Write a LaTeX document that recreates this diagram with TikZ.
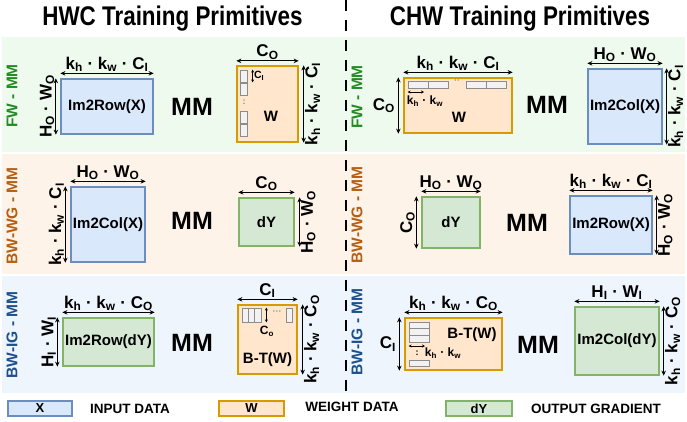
\documentclass[tikz,border=0pt]{standalone}
\usepackage{fontspec}
\setmainfont{Liberation Sans}
\newfontfamily\narrowfont[FakeStretch=0.83]{Liberation Sans}
\usetikzlibrary{arrows.meta}
\newcommand\sbs[1]{\textsubscript{#1}}
\definecolor{bandG}{HTML}{EFFAEF}
\definecolor{bandO}{HTML}{FDF3E9}
\definecolor{bandB}{HTML}{EEF5FC}
\definecolor{blueF}{HTML}{DAE8FC}
\definecolor{blueD}{HTML}{6C8EBF}
\definecolor{orF}{HTML}{FFE6CC}
\definecolor{orD}{HTML}{D79B00}
\definecolor{grF}{HTML}{D5E8D4}
\definecolor{grD}{HTML}{82B366}
\definecolor{cellD}{HTML}{8C8C8C}
\definecolor{cellF}{HTML}{F2F2F2}
\definecolor{labG}{RGB}{34,139,34}
\definecolor{labO}{RGB}{180,95,20}
\definecolor{labB}{RGB}{30,80,140}
\begin{document}
\begin{tikzpicture}[x=1pt,y=-1pt,
  box/.style={line width=1.3pt, inner sep=0pt, font=\fontsize{15}{17}\selectfont\bfseries},
  bluebox/.style={box, draw=blueD, fill=blueF},
  orbox/.style={box, draw=orD, fill=orF},
  grbox/.style={box, draw=grD, fill=grF},
  band/.style={draw=none},
  dim/.style={{Stealth[length=5pt,width=4.5pt]}-{Stealth[length=5pt,width=4.5pt]}, line width=1pt},
  sdim/.style={{Stealth[length=3pt,width=3pt]}-{Stealth[length=3pt,width=3pt]}, line width=0.7pt},
  lbl/.style={font=\fontsize{17}{19}\selectfont\bfseries, inner sep=1pt},
  slbl/.style={font=\fontsize{10.5}{12}\selectfont\bfseries, inner sep=1pt},
  cell/.style={draw=cellD, fill=cellF, line width=0.8pt, inner sep=0pt},
  mm/.style={font=\fontsize{25}{28}\selectfont\bfseries},
  rowlab/.style={rotate=90, font=\fontsize{15.5}{17}\selectfont\bfseries},
  title/.style={font=\fontsize{27}{30}\selectfont\narrowfont\bfseries, anchor=base},
  legtxt/.style={font=\fontsize{13.5}{15}\selectfont\bfseries},
  legbox/.style={box, font=\fontsize{13}{15}\selectfont\bfseries, minimum height=15pt},
  dots/.style={text=cellD, font=\fontsize{9}{10}\selectfont\bfseries, inner sep=0pt}
]
\useasboundingbox (0,0) rectangle (687,421);
\fill[white] (0,0) rectangle (687,421);
% bands
\fill[bandG] (2,37) rectangle (685,152);
\fill[bandO] (2,154) rectangle (685,274);
\fill[bandB] (2,276) rectangle (685,393);
% titles
\node[title] (t1) at (172.5,25) {HWC Training Primitives};
\node[title] (t2) at (520,25) {CHW Training Primitives};
% divider
\coordinate (dtop) at (346,0);
\coordinate (dbot) at (346,396);
\draw[line width=1.2pt, dash pattern=on 11pt off 9pt] (dtop) -- (dbot);
% row labels
\node[rowlab, text=labG] (r1l) at (12,96) {FW - MM};
\node[rowlab, text=labG] (r1r) at (357,97) {FW - MM};
\node[rowlab, text=labO] (r2l) at (12,216) {BW-WG - MM};
\node[rowlab, text=labO] (r2r) at (357,215) {BW-WG - MM};
\node[rowlab, text=labB] (r3l) at (12,335) {BW-IG - MM};
\node[rowlab, text=labB] (r3r) at (357,332) {BW-IG - MM};

%%%%% Row 1 left
\node[bluebox, minimum width=92pt, minimum height=55pt] (a1) at (107,106.5) {Im2Row(X)};
\draw[dim] ([yshift=5pt]a1.north west) -- ([yshift=5pt]a1.north east) node[midway, anchor=south, lbl] {k\sbs{h} · k\sbs{w} · C\sbs{I}};
\draw[dim] ([xshift=-4.5pt]a1.north west) -- ([xshift=-4.5pt]a1.south west) node[midway, rotate=90, anchor=south, lbl] {H\sbs{O} · W\sbs{O}};
\node[mm] (m1l) at (192,107) {MM};
\node[orbox, minimum width=61pt, minimum height=76pt] (b1) at (267.5,104) {};
\node[box, anchor=center] (b1t) at (271,116) {W};
\draw[dim] ([yshift=4.5pt]b1.north west) -- ([yshift=4.5pt]b1.north east) node[midway, anchor=south, lbl] {C\sbs{O}};
\draw[dim] ([xshift=5pt]b1.north east) -- ([xshift=5pt]b1.south east) node[midway, rotate=90, anchor=north, lbl] {k\sbs{h} · k\sbs{w} · C\sbs{I}};
\node[cell, minimum width=6.5pt, minimum height=12pt] (b1c1) at (244,76) {};
\node[cell, minimum width=6.5pt, minimum height=12pt] (b1c2) at (244,89) {};
\node[dots] (b1d) at (244,102) {:};
\node[cell, minimum width=6.5pt, minimum height=12pt] (b1c3) at (244,117) {};
\node[cell, minimum width=6.5pt, minimum height=12pt] (b1c4) at (244,130) {};
\draw[sdim] ([xshift=5pt]b1c1.north east) -- ([xshift=5pt]b1c1.south east) node[midway, anchor=west, slbl] {C\sbs{I}};

%%%%% Row 1 right
\node[orbox, minimum width=108pt, minimum height=55pt] (c1) at (458,105.5) {};
\node[box] (c1t) at (459,117) {W};
\draw[dim] ([yshift=5pt]c1.north west) -- ([yshift=5pt]c1.north east) node[midway, anchor=south, lbl] {k\sbs{h} · k\sbs{w} · C\sbs{I}};
\draw[dim] ([xshift=-5pt]c1.north west) -- ([xshift=-5pt]c1.south west) node[midway, anchor=east, lbl, xshift=-2pt] {C\sbs{O}};
\node[cell, minimum width=20pt, minimum height=7pt] (c1c1) at (418,84.5) {};
\node[cell, minimum width=20pt, minimum height=7pt] (c1c2) at (438,84.5) {};
\node[dots] (c1d) at (457,82) {··};
\node[cell, minimum width=20pt, minimum height=7pt] (c1c3) at (476.5,84.5) {};
\node[cell, minimum width=20pt, minimum height=7pt] (c1c4) at (496.5,84.5) {};
\coordinate (c1a) at (424,92);
\draw[sdim] (c1c1.south west |- c1a) -- (c1a);
\node[slbl, font=\fontsize{12}{13}\selectfont\bfseries] (c1l) at (425,101) {k\sbs{h} · k\sbs{w}};
\node[mm] (m1r) at (547,105) {MM};
\node[bluebox, minimum width=74pt, minimum height=75pt] (d1) at (625,106.5) {Im2Col(X)};
\draw[dim] ([yshift=5pt]d1.north west) -- ([yshift=5pt]d1.north east) node[midway, anchor=south, lbl] {H\sbs{O} · W\sbs{O}};
\draw[dim] ([xshift=4pt]d1.north east) -- ([xshift=4pt]d1.south east) node[midway, rotate=90, anchor=north, lbl] {k\sbs{h} · k\sbs{w} · C\sbs{I}};

%%%%% Row 2 left
\node[bluebox, minimum width=74pt, minimum height=75pt] (a2) at (108,224.5) {Im2Col(X)};
\draw[dim] ([yshift=5pt]a2.north west) -- ([yshift=5pt]a2.north east) node[midway, anchor=south, lbl] {H\sbs{O} · W\sbs{O}};
\draw[dim] ([xshift=-5pt]a2.north west) -- ([xshift=-5pt]a2.south west) node[midway, rotate=90, anchor=south, lbl] {k\sbs{h} · k\sbs{w} · C\sbs{I}};
\node[mm] (m2l) at (192,221) {MM};
\node[grbox, minimum width=55pt, minimum height=48pt] (b2) at (266.5,222) {dY};
\draw[dim] ([yshift=5pt]b2.north west) -- ([yshift=5pt]b2.north east) node[midway, anchor=south, lbl] {C\sbs{O}};
\draw[dim] ([xshift=5pt]b2.north east) -- ([xshift=5pt]b2.south east) node[midway, rotate=90, anchor=north, lbl] {H\sbs{O} · W\sbs{O}};

%%%%% Row 2 right
\node[grbox, minimum width=58pt, minimum height=51pt] (c2) at (451,222.5) {dY};
\draw[dim] ([yshift=5pt]c2.north west) -- ([yshift=5pt]c2.north east) node[midway, anchor=south, lbl] {H\sbs{O} · W\sbs{O}};
\draw[dim] ([xshift=-5pt]c2.north west) -- ([xshift=-5pt]c2.south west) node[midway, rotate=90, anchor=south, lbl] {C\sbs{O}};
\node[mm] (m2r) at (527,223) {MM};
\node[bluebox, minimum width=82pt, minimum height=58pt] (d2) at (611,225) {Im2Row(X)};
\draw[dim] ([yshift=5pt]d2.north west) -- ([yshift=5pt]d2.north east) node[midway, anchor=south, lbl] {k\sbs{h} · k\sbs{w} · C\sbs{I}};
\draw[dim] ([xshift=4pt]d2.north east) -- ([xshift=4pt]d2.south east) node[midway, rotate=90, anchor=north, lbl] {H\sbs{O} · W\sbs{O}};

%%%%% Row 3 left
\node[grbox, minimum width=91pt, minimum height=48pt] (a3) at (108.5,342) {Im2Row(dY)};
\draw[dim] ([yshift=5pt]a3.north west) -- ([yshift=5pt]a3.north east) node[midway, anchor=south, lbl] {k\sbs{h} · k\sbs{w} · C\sbs{O}};
\draw[dim] ([xshift=-5pt]a3.north west) -- ([xshift=-5pt]a3.south west) node[midway, rotate=90, anchor=south, lbl] {H\sbs{I} · W\sbs{I}};
\node[mm] (m3l) at (192,343) {MM};
\node[orbox, minimum width=59pt, minimum height=69pt] (b3) at (267.5,339.5) {};
\node[box] (b3t) at (267.5,360) {B-T(W)};
\draw[dim] ([yshift=5pt]b3.north west) -- ([yshift=5pt]b3.north east) node[midway, anchor=south, lbl] {C\sbs{I}};
\draw[dim] ([xshift=5pt]b3.north east) -- ([xshift=5pt]b3.south east) node[midway, rotate=90, anchor=north, lbl] {k\sbs{h} · k\sbs{w} · C\sbs{O}};
\node[cell, minimum width=6.3pt, minimum height=14pt] (b3c1) at (245.2,315) {};
\node[cell, minimum width=6.3pt, minimum height=14pt] (b3c2) at (251.5,315) {};
\node[cell, minimum width=6.3pt, minimum height=14pt] (b3c3) at (257.8,315) {};
\node[cell, minimum width=6.5pt, minimum height=14pt] (b3c4) at (289.5,315) {};
\node[dots] (b3d) at (277,313) {···};
\draw[sdim] ([xshift=5pt]b3c3.north east) -- ([xshift=5pt]b3c3.south east);
\node[slbl, font=\fontsize{12}{13}\selectfont\bfseries] (b3l) at (267,331) {C\sbs{o}};

%%%%% Row 3 right
\node[orbox, minimum width=97pt, minimum height=52pt] (c3) at (453.5,344) {};
\node[box] (c3t) at (472,335) {B-T(W)};
\draw[dim] ([yshift=5pt]c3.north west) -- ([yshift=5pt]c3.north east) node[midway, anchor=south, lbl] {k\sbs{h} · k\sbs{w} · C\sbs{O}};
\draw[dim] ([xshift=-5pt]c3.north west) -- ([xshift=-5pt]c3.south west) node[midway, anchor=east, lbl, xshift=-2pt] {C\sbs{I}};
\node[cell, minimum width=20pt, minimum height=6.7pt] (c3c1) at (419,325.3) {};
\node[cell, minimum width=20pt, minimum height=6.7pt] (c3c2) at (419,332) {};
\node[cell, minimum width=20pt, minimum height=6.7pt] (c3c3) at (419,338.7) {};
\node[cell, minimum width=20pt, minimum height=6pt] (c3c4) at (419,363) {};
\coordinate (c3a) at (425,346);
\draw[sdim] (c3c1.west |- c3a) -- (c3a);
\node[dots, text=black] (c3d) at (417,353) {:};
\node[slbl, font=\fontsize{12}{13}\selectfont\bfseries] (c3l) at (443,353) {k\sbs{h} · k\sbs{w}};
\node[mm] (m3r) at (538,345) {MM};
\node[grbox, minimum width=84pt, minimum height=68pt] (d3) at (617,341) {Im2Col(dY)};
\draw[dim] ([yshift=5pt]d3.north west) -- ([yshift=5pt]d3.north east) node[midway, anchor=south, lbl] {H\sbs{I} · W\sbs{I}};
\draw[dim] ([xshift=4pt]d3.north east) -- ([xshift=4pt]d3.south east) node[midway, rotate=90, anchor=north, lbl] {k\sbs{h} · k\sbs{w} · C\sbs{O}};

%%%%% Legend
\node[legbox, draw=blueD, fill=blueF, minimum width=64pt] (lx) at (40,408.5) {X};
\node[legtxt] (lxt) at (130,408.5) {INPUT DATA};
\node[legbox, draw=orD, fill=orF, minimum width=65pt] (lw) at (251.5,408.5) {W};
\node[legtxt] (lwt) at (352,406.5) {WEIGHT DATA};
\node[legbox, draw=grD, fill=grF, minimum width=66pt] (ly) at (479,408.5) {dY};
\node[legtxt] (lyt) at (596,408.5) {OUTPUT GRADIENT};
\end{tikzpicture}
\end{document}
